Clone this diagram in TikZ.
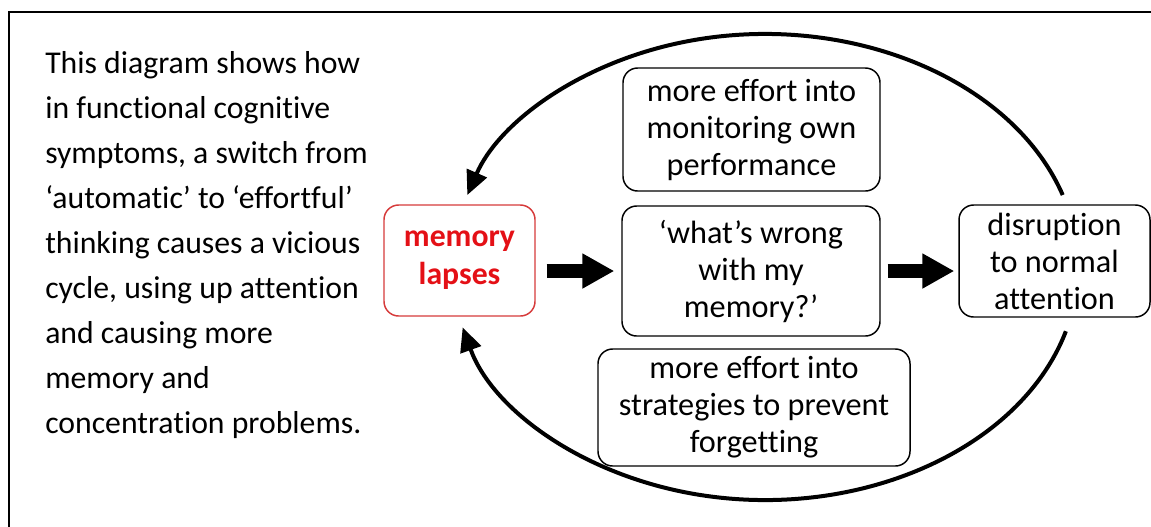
\documentclass[tikz,border=0pt]{standalone}
\usepackage{fontspec}
\setmainfont{Carlito}[Ligatures=NoCommon]
\usetikzlibrary{arrows.meta,calc}
\definecolor{lapred}{RGB}{228,16,22}
\definecolor{lapborder}{RGB}{214,58,58}
\begin{document}
\begin{tikzpicture}[x=0.75pt,y=-0.75pt,
  box/.style={draw, line width=1.1pt, rounded corners=11pt, align=center, inner sep=0pt,
    font=\fontsize{24.2}{27.75}\selectfont},
  redbox/.style={box, draw=lapborder, text=lapred,
    font=\fontsize{23.8}{28.5}\selectfont\bfseries},
  blockarrow/.style={line width=10.5pt, -{Triangle[length=24pt,width=24.75pt]}},
  cyclearrow/.style={line width=3pt, -{Triangle[length=18pt,width=16pt]}},
  frame/.style={line width=1.9pt}]
\useasboundingbox (0,0) rectangle (1151,526);
\draw[frame] (9,540) -- (9,12) -- (1165,12);

\node[anchor=north west, inner sep=0pt, align=left,
  font=\fontsize{23.8}{33.75}\selectfont] (desc) at (45,51)
  {This diagram shows how\\
   in functional cognitive\\
   symptoms, a switch from\\
   ‘automatic’ to ‘effortful’\\
   thinking causes a vicious\\
   cycle, using up attention\\
   and causing more\\
   memory and\\
   concentration problems.};

\node[redbox, minimum width=113.25pt, minimum height=83.25pt] (lapses) at (459.5,260.5)
  {memory\\lapses};
\node[box, minimum width=193.5pt, minimum height=97.5pt] (wrong) at (751,271)
  {‘what’s wrong\\with my\\memory?’};
\node[box, minimum width=192.75pt, minimum height=92.25pt] (monitor) at (751.5,129.5)
  {more effort into\\monitoring own\\performance};
\node[box, minimum width=234pt, minimum height=87.75pt] (strat) at (754,407.5)
  {more effort into\\strategies to prevent\\forgetting};
\node[box, minimum width=143.25pt, minimum height=84pt] (disr) at (1054.5,261)
  {disruption\\to normal\\attention};

\draw[blockarrow, shorten <=8.25pt, shorten >=5.25pt] (lapses.east |- wrong.west) -- (wrong.west);
\draw[blockarrow, shorten <=5.25pt, shorten >=3pt] (wrong.east) -- (disr.west |- wrong.east);

\coordinate (ctr) at (765,267);
\draw[cyclearrow] ($(ctr)+(-18:313 and 233)$)
  arc[start angle=-18, end angle=-162, x radius=313, y radius=233];
\draw[cyclearrow] ($(ctr)+(16:313 and 233)$)
  arc[start angle=16, end angle=165, x radius=313, y radius=233];
\end{tikzpicture}
\end{document}
